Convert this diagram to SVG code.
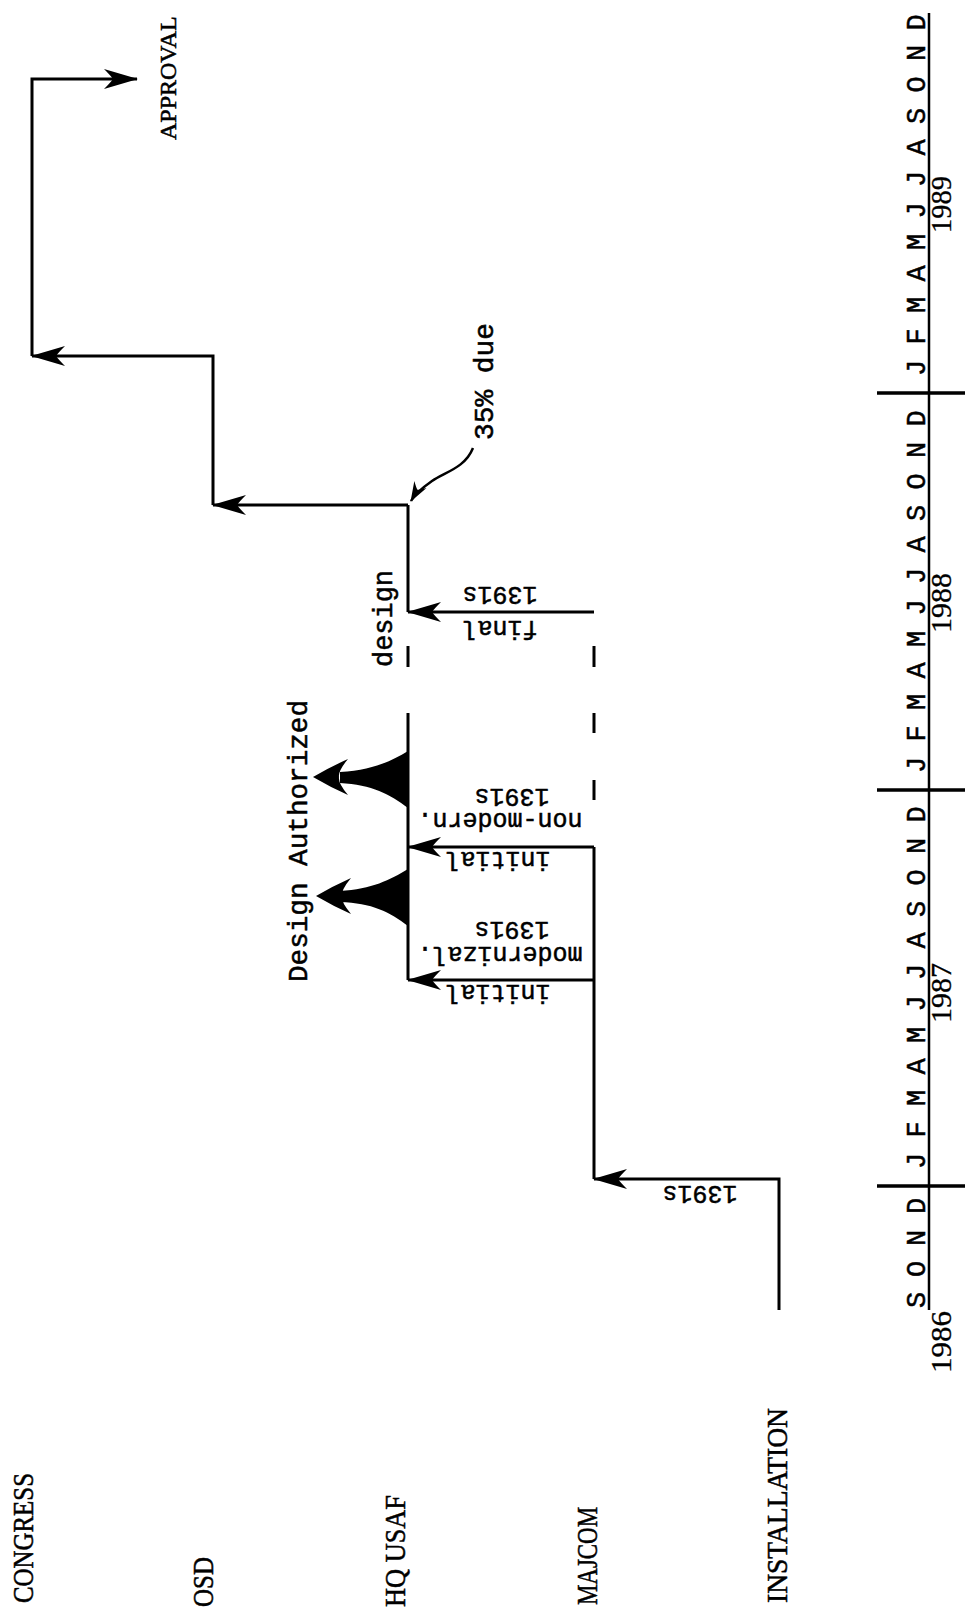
<svg xmlns="http://www.w3.org/2000/svg" width="965" height="1610" viewBox="0 0 965 1610">
<style>
.ln{stroke:#000;stroke-width:3;fill:none}
.ax{stroke:#000;stroke-width:2.5;fill:none}
.tk{stroke:#000;stroke-width:3.5;fill:none}
.lab{font-family:"Liberation Serif","Times New Roman",serif;font-size:30px;fill:#000;stroke:#000;stroke-width:0.5}
.tw{font-family:"Liberation Mono","Courier New",monospace;font-size:27px;fill:#000;stroke:#000;stroke-width:0.5}
.ud{font-family:"Liberation Mono","Courier New",monospace;font-size:25px;fill:#000;text-anchor:middle;stroke:#000;stroke-width:0.5}
.mo{font-family:"Liberation Mono","Courier New",monospace;font-size:27px;fill:#000;text-anchor:middle;stroke:#000;stroke-width:0.5}
.yr{font-family:"Liberation Serif","Times New Roman",serif;font-size:29px;fill:#000;stroke:#000;stroke-width:0.3}
</style>
<defs>
<marker id="ah" markerUnits="userSpaceOnUse" viewBox="-36 -12 38 24" refX="0" refY="0" markerWidth="38" markerHeight="24" orient="auto">
<path d="M1,0 L-33,-10 Q-26,-3 -24,0 Q-26,3 -33,10 Z" fill="#000"/>
</marker>
<marker id="ahs" markerUnits="userSpaceOnUse" viewBox="-22 -9 24 18" refX="0" refY="0" markerWidth="24" markerHeight="18" orient="auto">
<path d="M1,0 L-19,-7 Q-14,-2 -13,0 Q-14,2 -19,7 Z" fill="#000"/>
</marker>
</defs>
<rect width="965" height="1610" fill="#fff"/>

<g id="row-labels">
<g id="congress"><text class="lab" transform="translate(33,1603) rotate(-90)" textLength="130" lengthAdjust="spacingAndGlyphs">CONGRESS</text></g>
<g id="osd"><text class="lab" transform="translate(213,1607) rotate(-90)" textLength="50" lengthAdjust="spacingAndGlyphs">OSD</text></g>
<g id="hqusaf"><text class="lab" transform="translate(405,1607) rotate(-90)" textLength="112" lengthAdjust="spacingAndGlyphs">HQ USAF</text></g>
<g id="majcom"><text class="lab" transform="translate(597,1605) rotate(-90)" textLength="98" lengthAdjust="spacingAndGlyphs">MAJCOM</text></g>
<g id="installation"><text class="lab" transform="translate(787,1603) rotate(-90)" textLength="195" lengthAdjust="spacingAndGlyphs">INSTALLATION</text></g>
</g>

<g id="approval"><text class="lab" style="font-size:24px" transform="translate(176,140) rotate(-90)">APPROVAL</text></g>

<g id="connectors">
<path class="ln" d="M779,1310 L779,1179 L594,1179" marker-end="url(#ah)"/>
<path class="ln" d="M594,1179 L594,847"/>
<path class="ln" d="M594,980 L408,980" marker-end="url(#ah)"/>
<path class="ln" d="M594,847 L408,847" marker-end="url(#ah)"/>
<path class="ln" d="M594,646 L594,667 M594,713 L594,733 M594,780 L594,800"/>
<path class="ln" d="M594,612 L408,612" marker-end="url(#ah)"/>
<path class="ln" d="M408,980 L408,713 M408,646 L408,667 M408,612 L408,505"/>
<path class="ln" d="M408,505 L213,505" marker-end="url(#ah)"/>
<path class="ln" d="M213,505 L213,356 L32,356" marker-end="url(#ah)"/>
<path class="ln" d="M32,356 L32,79 L137,79" marker-end="url(#ah)"/>
<path class="ln" style="stroke-width:2.5" d="M473,448 C465,468 445,472 432,481 C422,488 415,494 411,501" marker-end="url(#ahs)"/>
</g>

<g id="design-authorized">
<path d="M408,751 C390,762 372,770 340,772 L340,783 C372,785 390,794 408,808 Z" fill="#000"/>
<path d="M313,777 Q330,767 348,759 Q338,771 339,777 Q338,783 348,795 Q330,787 313,777 Z" fill="#000"/>
<path d="M408,869 C390,880 372,889 340,891 L340,902 C372,903 390,912 408,926 Z" fill="#000"/>
<path d="M316,896 Q333,886 351,878 Q341,890 342,896 Q341,902 351,914 Q333,906 316,896 Z" fill="#000"/>
<text class="tw" transform="translate(307,982) rotate(-90)" textLength="282" lengthAdjust="spacingAndGlyphs">Design Authorized</text>
</g>

<g id="design-label"><text class="tw" transform="translate(392,667) rotate(-90)" textLength="97" lengthAdjust="spacingAndGlyphs">design</text></g>
<g id="due-label"><text class="tw" transform="translate(493,440) rotate(-90)" textLength="117" lengthAdjust="spacingAndGlyphs">35% due</text></g>

<g id="flow-labels">
<text class="ud" x="700" y="1186" transform="rotate(180 700 1186)">1391s</text>
<text class="ud" x="512" y="922" transform="rotate(180 512 922)">1391s</text>
<text class="ud" x="500" y="947" transform="rotate(180 500 947)">modernizal.</text>
<text class="ud" x="498" y="985" transform="rotate(180 498 985)">initial</text>
<text class="ud" x="512" y="789" transform="rotate(180 512 789)">1391s</text>
<text class="ud" x="500" y="813" transform="rotate(180 500 813)">non-modern.</text>
<text class="ud" x="498" y="852" transform="rotate(180 498 852)">initial</text>
<text class="ud" x="500" y="587" transform="rotate(180 500 587)">1391s</text>
<text class="ud" x="500" y="621" transform="rotate(180 500 621)">final</text>
</g>

<g id="time-axis">
<path class="ax" d="M929,13 L929,1310"/>
<path class="tk" d="M877,393 L965,393 M877,790 L965,790 M877,1186 L965,1186"/>
<g id="months-1989">
<text class="mo" transform="translate(925,368) rotate(-90)">J</text>
<text class="mo" transform="translate(925,336.5) rotate(-90)">F</text>
<text class="mo" transform="translate(925,305) rotate(-90)">M</text>
<text class="mo" transform="translate(925,273.5) rotate(-90)">A</text>
<text class="mo" transform="translate(925,242) rotate(-90)">M</text>
<text class="mo" transform="translate(925,210.5) rotate(-90)">J</text>
<text class="mo" transform="translate(925,179) rotate(-90)">J</text>
<text class="mo" transform="translate(925,147.5) rotate(-90)">A</text>
<text class="mo" transform="translate(925,116) rotate(-90)">S</text>
<text class="mo" transform="translate(925,84.5) rotate(-90)">O</text>
<text class="mo" transform="translate(925,53) rotate(-90)">N</text>
<text class="mo" transform="translate(925,22.5) rotate(-90)">D</text>
</g>
<g id="months-1988">
<text class="mo" transform="translate(925,765) rotate(-90)">J</text>
<text class="mo" transform="translate(925,733.5) rotate(-90)">F</text>
<text class="mo" transform="translate(925,702) rotate(-90)">M</text>
<text class="mo" transform="translate(925,670.5) rotate(-90)">A</text>
<text class="mo" transform="translate(925,639) rotate(-90)">M</text>
<text class="mo" transform="translate(925,607.5) rotate(-90)">J</text>
<text class="mo" transform="translate(925,576) rotate(-90)">J</text>
<text class="mo" transform="translate(925,544.5) rotate(-90)">A</text>
<text class="mo" transform="translate(925,513) rotate(-90)">S</text>
<text class="mo" transform="translate(925,481.5) rotate(-90)">O</text>
<text class="mo" transform="translate(925,450) rotate(-90)">N</text>
<text class="mo" transform="translate(925,418.5) rotate(-90)">D</text>
</g>
<g id="months-1987">
<text class="mo" transform="translate(925,1161) rotate(-90)">J</text>
<text class="mo" transform="translate(925,1129.5) rotate(-90)">F</text>
<text class="mo" transform="translate(925,1098) rotate(-90)">M</text>
<text class="mo" transform="translate(925,1066.5) rotate(-90)">A</text>
<text class="mo" transform="translate(925,1035) rotate(-90)">M</text>
<text class="mo" transform="translate(925,1003.5) rotate(-90)">J</text>
<text class="mo" transform="translate(925,972) rotate(-90)">J</text>
<text class="mo" transform="translate(925,940.5) rotate(-90)">A</text>
<text class="mo" transform="translate(925,909) rotate(-90)">S</text>
<text class="mo" transform="translate(925,877.5) rotate(-90)">O</text>
<text class="mo" transform="translate(925,846) rotate(-90)">N</text>
<text class="mo" transform="translate(925,814.5) rotate(-90)">D</text>
</g>
<g id="months-1986">
<text class="mo" transform="translate(925,1300) rotate(-90)">S</text>
<text class="mo" transform="translate(925,1269) rotate(-90)">O</text>
<text class="mo" transform="translate(925,1238) rotate(-90)">N</text>
<text class="mo" transform="translate(925,1206) rotate(-90)">D</text>
</g>
<text class="yr" transform="translate(951,233) rotate(-90)" textLength="57" lengthAdjust="spacingAndGlyphs">1989</text>
<text class="yr" transform="translate(951,633) rotate(-90)" textLength="60" lengthAdjust="spacingAndGlyphs">1988</text>
<text class="yr" transform="translate(951,1023) rotate(-90)" textLength="60" lengthAdjust="spacingAndGlyphs">1987</text>
<text class="yr" transform="translate(951,1373) rotate(-90)" textLength="62" lengthAdjust="spacingAndGlyphs">1986</text>
</g>
</svg>
